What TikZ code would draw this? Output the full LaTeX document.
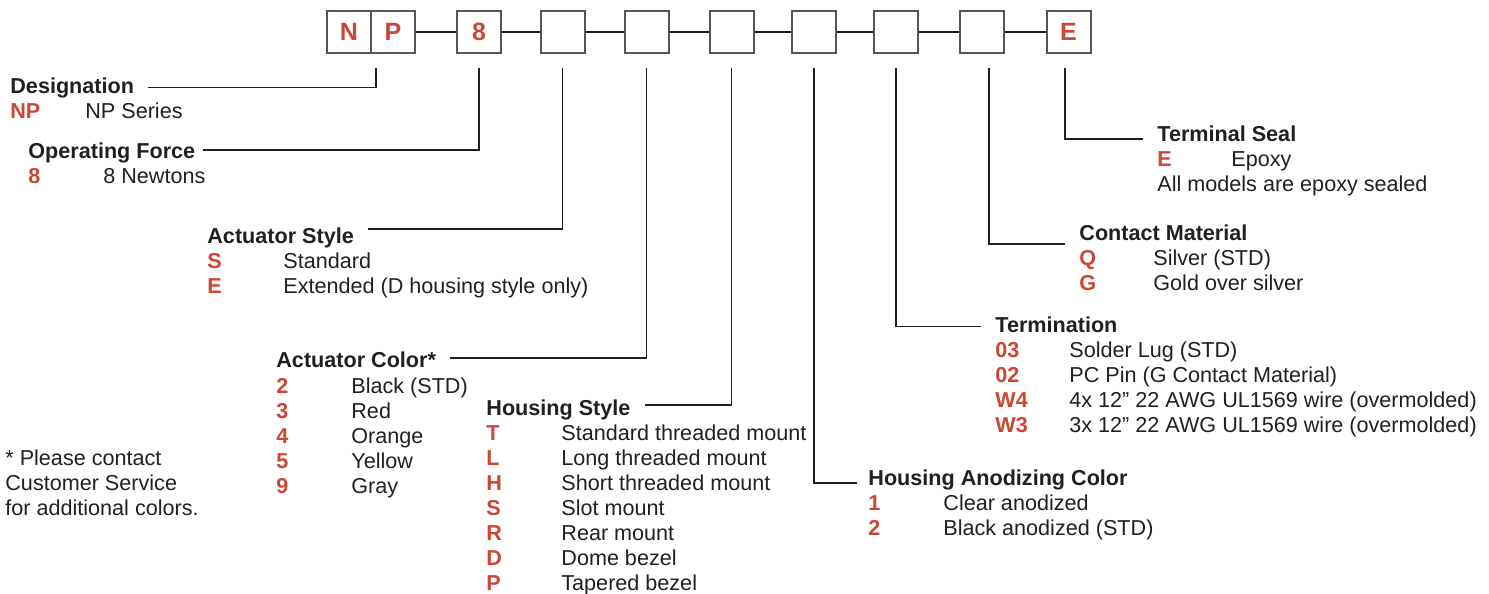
\documentclass[tikz,border=0pt]{standalone}
\usepackage{fontspec}
\setmainfont{Liberation Sans}
\usepackage{xcolor}
\usepackage{tikz}
\usetikzlibrary{positioning}

\definecolor{codered}{RGB}{207,69,52}
\definecolor{ink}{RGB}{35,31,32}
\definecolor{boxgray}{RGB}{85,85,85}

\begin{document}
\begin{tikzpicture}[x=0.5pt, y=-0.5pt,
    box/.style={draw=boxgray, line width=1pt, minimum width=22pt, minimum height=21pt, inner sep=0pt, text=codered, font=\fontsize{12.5}{15}\selectfont\bfseries},
    head/.style={anchor=base west, inner sep=0pt, text height=7.5pt, text depth=2pt, text=ink, font=\fontsize{10.8}{13}\selectfont\bfseries},
    code/.style={anchor=base west, inner sep=0pt, text=codered, font=\fontsize{10.8}{13}\selectfont\bfseries},
    desc/.style={anchor=base west, inner sep=0pt, text=ink, font=\fontsize{10.8}{13}\selectfont},
    link/.style={draw=ink, line width=0.7pt},
    leader/.style={draw=ink, line width=0.6pt, shorten <=7pt, shorten >=7pt}]
    \useasboundingbox (0,0) rectangle (1489,594);
    % part number boxes
    \node[box] (n) at (349,32) {N};
    \node[box] (p) at (393,32) {P};
    \node[box] (f8) at (479,32) {8};
    \node[box] (b3) at (562.5,32) {};
    \node[box] (b4) at (646.5,32) {};
    \node[box] (b5) at (731.5,32) {};
    \node[box] (b6) at (814,32) {};
    \node[box] (b7) at (896,32) {};
    \node[box] (b8) at (981.5,32) {};
    \node[box] (e) at (1068.5,32) {E};
    \draw[link] (p) -- (f8);
    \draw[link] (f8) -- (b3);
    \draw[link] (b3) -- (b4);
    \draw[link] (b4) -- (b5);
    \draw[link] (b5) -- (b6);
    \draw[link] (b6) -- (b7);
    \draw[link] (b7) -- (b8);
    \draw[link] (b8) -- (e);
    % designation
    \node[head] (desig) at (10,93) {Designation};
    \node[code] (desig1) at (10,118) {NP};
    \node[desc] (desig1d) at (85,118) {NP Series};
    % operating force
    \node[head] (force) at (28,158) {Operating Force};
    \node[code] (force1) at (28,183) {8};
    \node[desc] (force1d) at (103,183) {8 Newtons};
    % actuator style
    \node[head] (astyle) at (207,243) {Actuator Style};
    \node[code] (astyle1) at (207,268) {S};
    \node[desc] (astyle1d) at (283,268) {Standard};
    \node[code] (astyle2) at (207,293) {E};
    \node[desc] (astyle2d) at (283,293) {Extended (D housing style only)};
    % actuator color
    \node[head] (acolor) at (276,367) {Actuator Color*};
    \node[code] (acolor1) at (276,393) {2};
    \node[desc] (acolor1d) at (351,393) {Black (STD)};
    \node[code] (acolor2) at (276,418) {3};
    \node[desc] (acolor2d) at (351,418) {Red};
    \node[code] (acolor3) at (276,443) {4};
    \node[desc] (acolor3d) at (351,443) {Orange};
    \node[code] (acolor4) at (276,468) {5};
    \node[desc] (acolor4d) at (351,468) {Yellow};
    \node[code] (acolor5) at (276,493) {9};
    \node[desc] (acolor5d) at (351,493) {Gray};
    \node[desc] (note1) at (5,465) {* Please contact};
    \node[desc] (note2) at (5,490) {Customer Service};
    \node[desc] (note3) at (5,515) {for additional colors.};
    % housing style
    \node[head] (hstyle) at (486,415) {Housing Style};
    \node[code] (hstyle1) at (486,440) {T};
    \node[desc] (hstyle1d) at (561,440) {Standard threaded mount};
    \node[code] (hstyle2) at (486,465) {L};
    \node[desc] (hstyle2d) at (561,465) {Long threaded mount};
    \node[code] (hstyle3) at (486,490) {H};
    \node[desc] (hstyle3d) at (561,490) {Short threaded mount};
    \node[code] (hstyle4) at (486,515) {S};
    \node[desc] (hstyle4d) at (561,515) {Slot mount};
    \node[code] (hstyle5) at (486,540) {R};
    \node[desc] (hstyle5d) at (561,540) {Rear mount};
    \node[code] (hstyle6) at (486,565) {D};
    \node[desc] (hstyle6d) at (561,565) {Dome bezel};
    \node[code] (hstyle7) at (486,590) {P};
    \node[desc] (hstyle7d) at (561,590) {Tapered bezel};
    % housing anodizing color
    \node[head] (anod) at (868,485) {Housing Anodizing Color};
    \node[code] (anod1) at (868,510) {1};
    \node[desc] (anod1d) at (943,510) {Clear anodized};
    \node[code] (anod2) at (868,535) {2};
    \node[desc] (anod2d) at (943,535) {Black anodized (STD)};
    % termination
    \node[head] (term) at (995,332) {Termination};
    \node[code] (term1) at (995,357) {03};
    \node[desc] (term1d) at (1069,357) {Solder Lug (STD)};
    \node[code] (term2) at (995,382) {02};
    \node[desc] (term2d) at (1069,382) {PC Pin (G Contact Material)};
    \node[code] (term3) at (995,407) {W4};
    \node[desc] (term3d) at (1069,407) {4x 12” 22 AWG UL1569 wire (overmolded)};
    \node[code] (term4) at (995,432) {W3};
    \node[desc] (term4d) at (1069,432) {3x 12” 22 AWG UL1569 wire (overmolded)};
    % contact material
    \node[head] (contact) at (1079,240) {Contact Material};
    \node[code] (contact1) at (1079,265) {Q};
    \node[desc] (contact1d) at (1153,265) {Silver (STD)};
    \node[code] (contact2) at (1079,290) {G};
    \node[desc] (contact2d) at (1153,290) {Gold over silver};
    % terminal seal
    \node[head] (seal) at (1157,141) {Terminal Seal};
    \node[code] (seal1) at (1157,166) {E};
    \node[desc] (seal1d) at (1231,166) {Epoxy};
    \node[desc] (seal2) at (1157,191) {All models are epoxy sealed};
    % leaders
    \draw[leader] ([xshift=2pt]n.south east) |- (desig.east);
    \draw[leader, shorten >=3.5pt] (f8.south) |- ([yshift=1.25pt]force.east);
    \draw[leader] (b3.south) |- ([yshift=4.25pt]astyle.east);
    \draw[leader] (b4.south) |- ([yshift=1.75pt]acolor.east);
    \draw[leader] (b5.south) |- ([yshift=2.25pt]hstyle.east);
    \draw[leader, shorten >=5.5pt] (b6.south) |- ([yshift=-1.75pt]anod.west);
    \draw[leader] (b7.south) |- (term.west);
    \draw[leader] ([xshift=3.75pt]b8.south) |- ([yshift=-4.75pt]contact.west);
    \draw[leader] ([xshift=-1.75pt]e.south) |- ([yshift=-1.75pt]seal.west);
\end{tikzpicture}
\end{document}
